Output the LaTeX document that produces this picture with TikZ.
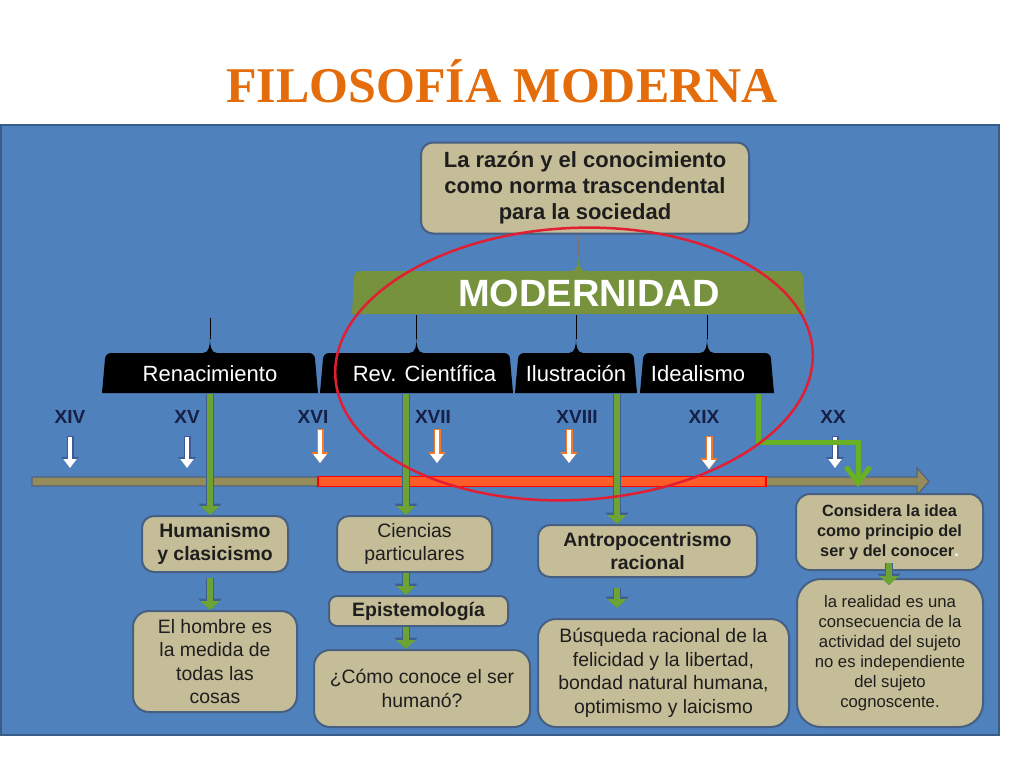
\documentclass[tikz,border=0pt]{standalone}
\usepackage{fontspec}
\setmainfont{Liberation Sans}
\newfontfamily\titlefont{Liberation Serif}
\usetikzlibrary{arrows.meta}

\definecolor{panelblue}{RGB}{79,129,189}
\definecolor{paneledge}{RGB}{56,93,138}
\definecolor{boxfill}{RGB}{196,189,151}
\definecolor{boxedge}{RGB}{70,95,130}
\definecolor{textdark}{RGB}{30,30,30}
\definecolor{modgreen}{RGB}{118,146,60}
\definecolor{arrowgreen}{RGB}{108,163,52}
\definecolor{connedge}{RGB}{62,96,142}
\definecolor{elbowgreen}{RGB}{104,176,36}
\definecolor{lineband}{RGB}{150,140,90}
\definecolor{bandedge}{RGB}{80,100,130}
\definecolor{bandred}{RGB}{255,92,40}
\definecolor{titleorange}{RGB}{228,108,10}
\definecolor{navy}{RGB}{22,32,70}
\definecolor{ovalred}{RGB}{225,30,50}
\definecolor{tickwhite}{RGB}{60,90,150}
\definecolor{tickorange}{RGB}{242,122,40}

\tikzset{
	box/.style={draw=boxedge, line width=2pt, fill=boxfill, rounded corners=12pt,
		align=center, inner sep=0pt, text=textdark, font=\fontsize{19.4}{23.5}\selectfont},
	bbox/.style={box, font=\bfseries\fontsize{19.4}{23.5}\selectfont},
	tab/.style={text=white, inner sep=0pt, minimum height=40pt, font=\fontsize{22}{26}\selectfont},
	cent/.style={text=navy, font=\bfseries\fontsize{19}{22}\selectfont},
	spike/.style={draw=black, line width=0.8pt},
	conn/.style={draw=arrowgreen, line width=5.5pt, -{Triangle[length=9pt,width=19pt]},
		preaction={draw=connedge, line width=8.5pt, -{Triangle[length=11.5pt,width=23pt]}}},
	tick/.style={draw=white, line width=4pt, -{Triangle[length=9pt,width=13pt]},
		preaction={draw=#1, line width=7pt, shorten <=-1.5pt, -{Triangle[length=11pt,width=17pt]}}},
	elbow/.style={draw=elbowgreen, line width=5pt, -{Straight Barb[length=16pt,width=24pt]}},
}

\begin{document}
\begin{tikzpicture}[x=1pt, y=1pt]

	\useasboundingbox (0,0) rectangle (1024,-768);
	\fill[white] (0,0) rectangle (1024,-768);

	% title
	\node[anchor=base, text=titleorange, font=\titlefont\bfseries\fontsize{50}{56}\selectfont]
		(titulo) at (502,-102) {FILOSOFÍA MODERNA};

	% blue panel
	\draw[fill=panelblue, draw=paneledge, line width=1.5pt] (1,-125) rectangle (999,-735);

	% timeline
	\draw[fill=lineband, draw=bandedge, line width=1.2pt]
		(32,-477) -- (917,-477) -- (917,-468) -- (929,-481.5)
		-- (917,-495) -- (917,-486) -- (32,-486) -- cycle;
	\draw[fill=bandred, draw=red, line width=1.5pt] (318,-476.5) rectangle (766,-486.5);

	% centuries
	\foreach \i/\lx/\tx/\g/\tl/\tc in {XIV/70/70/10/31/tickwhite, XV/187/187/10/31/tickwhite,
		XVI/313/320/3/33/tickorange, XVII/433/437/3/33/tickorange, XVIII/577/569/3/33/tickorange,
		XIX/704/709/10/32/tickorange, XX/833/835/10/31/tickwhite} {
		\node[cent] (c\i) at (\lx,-417) {\i};
		\path (c\i.south -| \tx,0) ++(0,-\g) coordinate (t\i);
		\draw[tick=\tc] (t\i) -- ++(0,-\tl);
	}

	% MODERNIDAD
	\fill[modgreen] (352,-314) -- (354,-277) to[out=90,in=180] (360,-271) -- (571,-271)
		to[out=0,in=-90] (578.5,-256) to[out=-90,in=180] (586,-271) -- (797,-271)
		to[out=0,in=90] (803,-277) -- (805,-314) -- cycle;
	\node[text=white, font=\bfseries\fontsize{38}{44}\selectfont, inner sep=0pt,
		minimum width=453pt, minimum height=43pt] (mod) at (578.5,-293) {\hspace*{21pt}MODERNIDAD};

	\node[bbox, font=\bfseries\fontsize{22}{26}\selectfont, minimum width=328pt, minimum height=91pt]
		(top) at (585,-188) {La razón y el conocimiento\\como norma trascendental\\para la sociedad};
	\draw[spike, draw=black!55] (mod.north) ++(0,15) -- (mod.north |- top.south);

	% periods
	\foreach \xa/\xb/\nm/\txt in {102/318/ren/Renacimiento, 320/513/rev/\hspace*{16pt}Rev. Científica,
		515/637/ilu/Ilustración, 640/774/ide/Idealismo\hspace*{18pt}} {
		\pgfmathsetmacro{\xm}{(\xa+\xb)/2}
		\pgfmathsetmacro{\tw}{\xb-\xa}
		\fill[black] (\xa,-393) -- (\xa+3,-359) to[out=90,in=180] (\xa+9,-353) -- (\xm-7,-353)
			to[out=0,in=-90] (\xm,-338) to[out=-90,in=180] (\xm+7,-353) -- (\xb-9,-353)
			to[out=0,in=90] (\xb-3,-359) -- (\xb,-393) -- cycle;
		\node[tab, minimum width=\tw pt] (\nm) at (\xm,-374) {\txt};
	}

	\draw[spike] (ren.north) ++(0,15) -- ++(0,21);
	\draw[spike] (rev.north) ++(0,15) -- (rev.north |- mod.south);
	\draw[spike] (ilu.north) ++(0,15) -- (ilu.north |- mod.south);
	\draw[spike] (ide.north) ++(0,15) -- (ide.north |- mod.south);

	% boxes
	\node[bbox, minimum width=146pt, minimum height=56pt] (hum) at (215,-544) {Humanismo\\y clasicismo};
	\node[box, minimum width=155pt, minimum height=56pt] (cie) at (414.5,-544) {Ciencias\\particulares};
	\node[bbox, minimum width=179pt, minimum height=30pt, rounded corners=8pt] (epi) at (418.5,-611) {Epistemología};
	\node[box, minimum width=164pt, minimum height=101pt, rounded corners=16pt] (hom) at (215,-661.5)
		{El hombre es\\la medida de\\todas las\\cosas};
	\node[box, minimum width=216pt, minimum height=77pt, rounded corners=16pt] (com) at (422,-688.5)
		{¿Cómo conoce el ser\\humanó?};
	\node[bbox, minimum width=219pt, minimum height=52pt] (ant) at (647.5,-551) {Antropocentrismo\\racional};
	\node[box, minimum width=251pt, minimum height=108pt, rounded corners=18pt] (bus) at (663.5,-673)
		{Búsqueda racional de la\\felicidad y la libertad,\\bondad natural humana,\\optimismo y laicismo};
	\node[bbox, font=\bfseries\fontsize{16.3}{20}\selectfont, minimum width=187pt, minimum height=76pt,
		rounded corners=14pt] (con) at (889.5,-532) {Considera la idea\\como principio del\\ser y del conocer{\color{white}.}};
	\node[box, font=\fontsize{16.7}{20}\selectfont, minimum width=186pt, minimum height=148pt,
		rounded corners=24pt] (rea) at (890,-653)
		{la realidad es una\\consecuencia de la\\actividad del sujeto\\no es independiente\\del sujeto\\cognoscente.};

	% connectors
	\draw[conn] (ren.south -| 210,0) -- (hum.north -| 210,0);
	\draw[conn] (rev.south -| 406,0) -- (cie.north -| 406,0);
	\draw[conn] (ilu.south -| 617,0) -- (ant.north -| 617,0);
	\draw[elbow, shorten >=6pt] (ide.south -| 758,0) -- ++(0,-48) -| (con.north -| 858,0);

	\draw[conn, shorten <=5pt] (hum.south -| 210,0) -- (hom.north -| 210,0);
	\draw[conn] (cie.south -| 406,0) -- (epi.north -| 406,0);
	\draw[conn] (epi.south -| 406,0) -- (com.north -| 406,0);
	\draw[conn, shorten <=10pt, shorten >=10pt] (ant.south -| 617,0) -- (bus.north -| 617,0);
	\draw[conn, shorten <=-8pt, shorten >=-7pt] (con.south -| 889,0) -- (rea.north -| 889,0);

	% red oval
	\draw[ovalred, line width=2.5pt, rotate around={3:(574,-364)}]
		(574,-364) ellipse [x radius=239, y radius=136];

\end{tikzpicture}
\end{document}
